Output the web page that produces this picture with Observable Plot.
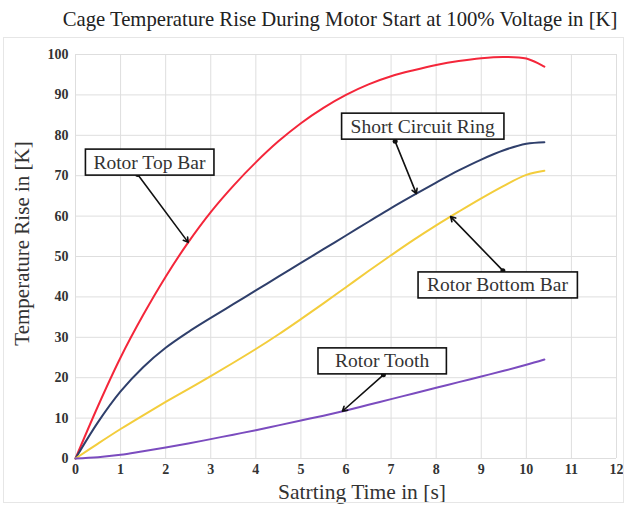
<!DOCTYPE html>
<html>
<head>
<meta charset="utf-8">
<script src="https://cdn.jsdelivr.net/npm/d3@7"></script>
<script src="https://cdn.jsdelivr.net/npm/@observablehq/plot@0.6"></script>
<style>
  body { margin: 0; background: #fff; }
  #chart { position: relative; width: 627px; height: 506px; }
  #chart svg { display: block; }
  #chart svg text { font-family: "Liberation Serif", "DejaVu Serif", serif !important; }
  #outline { position: absolute; left: 3px; top: 37px; width: 619px; height: 464px; border: 1px solid #e6e6e6; pointer-events: none; }
</style>
</head>
<body>
<div id="chart"><div id="outline"></div></div>
<script>
// Starting time [s]
const time = [0, 0.5, 1, 1.5, 2, 2.5, 3, 3.5, 4, 4.5, 5, 5.5, 6, 6.5, 7, 7.5, 8, 8.5, 9, 9.5, 10, 10.4];

// Temperature rise [K] per cage part
const rotorTopBar      = [0, 13, 25, 35.5, 45, 53.5, 61, 67.5, 73.3, 78.5, 83, 86.8, 90, 92.6, 94.6, 96.1, 97.4, 98.4, 99.1, 99.4, 99.0, 97];
const shortCircuitRing = [0, 9, 16.6, 22.6, 27.4, 31.3, 34.8, 38.2, 41.6, 45, 48.4, 51.8, 55.2, 58.6, 62, 65.2, 68.3, 71.3, 74, 76.3, 77.9, 78.3];
const rotorBottomBar   = [0, 3.7, 7.3, 10.7, 14, 17.2, 20.4, 23.7, 27.1, 30.7, 34.5, 38.4, 42.4, 46.4, 50.3, 54.1, 57.7, 61.1, 64.4, 67.5, 70.2, 71.2];
const rotorTooth       = [0, 0.3, 0.9, 1.8, 2.7, 3.7, 4.8, 5.9, 7.0, 8.2, 9.4, 10.6, 11.9, 13.3, 14.7, 16.1, 17.5, 18.9, 20.3, 21.7, 23.2, 24.5];

const seriesNames  = ["Rotor Top Bar", "Short Circuit Ring", "Rotor Bottom Bar", "Rotor Tooth"];
const seriesValues = [rotorTopBar, shortCircuitRing, rotorBottomBar, rotorTooth];
const seriesColors = ["#f4263a", "#2f3f6b", "#f3cd3c", "#7b4cbf"];

const xTicks = [0, 1, 2, 3, 4, 5, 6, 7, 8, 9, 10, 11, 12];
const yTicks = [0, 10, 20, 30, 40, 50, 60, 70, 80, 90, 100];

const title  = "Cage Temperature Rise During Motor Start at 100% Voltage in [K]";
const xLabel = "Satrting Time in [s]";
const yLabel = "Temperature Rise in [K]";

// Callouts: label anchor, leader start, and the time where the leader meets its curve
const calloutSeries = ["Rotor Top Bar", "Short Circuit Ring", "Rotor Bottom Bar", "Rotor Tooth"];
const calloutBoxT   = [1.64, 7.7, 9.36, 6.8];
const calloutBoxK   = [73.3, 82.2, 42.9, 24.1];
const calloutFromT  = [1.38, 7.09, 9.48, 6.83];
const calloutFromK  = [70.3, 78.5, 46.5, 20.7];
const calloutToT    = [2.5, 7.56, 8.32, 5.92];

// horizontal padding of each callout frame, in px
const framePadX = [8, 9, 9, 17];

// long-format table for the line mark
const rows = seriesNames.flatMap((name, i) =>
  time.map((t, j) => ({series: name, t, value: seriesValues[i][j]})));

// value of a series at time t (linear between samples), so leaders end on the curve
function valueAt(values, t) {
  const j = Math.min(d3.bisectRight(time, t), time.length - 1);
  const t0 = time[j - 1], t1 = time[j];
  return values[j - 1] + (values[j] - values[j - 1]) * (t - t0) / (t1 - t0);
}

const callouts = calloutSeries.map((name, i) => ({
  label: name,
  bx: calloutBoxT[i], by: calloutBoxK[i],
  sx: calloutFromT[i], sy: calloutFromK[i],
  ex: calloutToT[i], ey: valueAt(seriesValues[seriesNames.indexOf(name)], calloutToT[i])
}));

const serif = "Liberation Serif, DejaVu Serif, serif";

const chart = Plot.plot({
  width: 627,
  height: 506,
  marginLeft: 75,
  marginRight: 11,
  marginTop: 54,
  marginBottom: 48,
  style: {background: "#fff", overflow: "visible"},
  x: {domain: [0, 12]},
  y: {domain: [0, 100]},
  color: {domain: seriesNames, range: seriesColors},
  marks: [
    Plot.gridX(xTicks, {stroke: "#dedede", strokeOpacity: 1}),
    Plot.gridY(yTicks, {stroke: "#dedede", strokeOpacity: 1}),
    Plot.axisX(xTicks, {tickSize: 0, tickPadding: 6, fontSize: 14, fontWeight: "bold", fontFamily: serif, fill: "#333", label: null}),
    Plot.axisY(yTicks, {tickSize: 0, tickPadding: 7, fontSize: 14, fontWeight: "bold", fontFamily: serif, fill: "#333", label: null}),
    Plot.line(rows, {x: "t", y: "value", z: "series", stroke: "series", strokeWidth: 2, curve: "catmull-rom"}),
    Plot.arrow(callouts, {x1: "sx", y1: "sy", x2: "ex", y2: "ey", stroke: "#111", strokeWidth: 1.6, headLength: 5, bend: 0}),
    Plot.dot(callouts, {x: "sx", y: "sy", r: 2.5, fill: "#111"}),
    Plot.text(callouts, {x: "bx", y: "by", text: "label", fontSize: 19.5, fontFamily: serif, fill: "#333"}),
    Plot.text([title], {frameAnchor: "top", lineAnchor: "middle", dx: -6, dy: -35, fontSize: 20.7, fontFamily: serif, fill: "#222"}),
    Plot.text([xLabel], {frameAnchor: "bottom", lineAnchor: "middle", dx: 16, dy: 34, fontSize: 21.5, fontFamily: serif, fill: "#333"}),
    Plot.text([yLabel], {frameAnchor: "left", textAnchor: "middle", dx: -53, dy: -13, rotate: -90, fontSize: 21, fontFamily: serif, fill: "#333"})
  ]
});

document.getElementById("chart").prepend(chart);

// framed white boxes behind the callout labels, sized to the rendered text
d3.select(chart).selectAll("text")
  .filter(function () { return calloutSeries.includes(this.textContent); })
  .each(function () {
    const b = this.getBBox();
    const padX = framePadX[calloutSeries.indexOf(this.textContent)], padY = 2.5;
    d3.select(this.parentNode).insert("rect", () => this)
      .attr("x", b.x - padX).attr("y", b.y - padY)
      .attr("width", b.width + 2 * padX).attr("height", b.height + 2 * padY)
      .attr("transform", this.getAttribute("transform"))
      .attr("fill", "#fff").attr("stroke", "#111").attr("stroke-width", 1.6);
  });
</script>
</body>
</html>
